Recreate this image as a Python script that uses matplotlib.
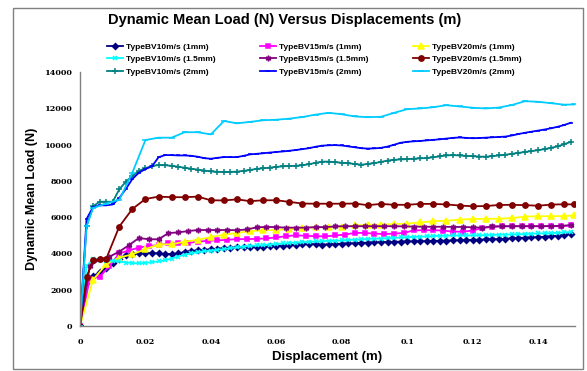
import numpy as np
import matplotlib.pyplot as plt
from matplotlib.patches import Rectangle

# sampling positions (m)
x2 = np.round(np.arange(0, 0.1501, 0.002), 3)
x3 = np.round(np.arange(0, 0.1501, 0.003), 3)
x_yel = list(np.round(np.arange(0, 0.1481, 0.004), 3)) + [0.151]
x_dred = [0, 0.002, 0.004, 0.006, 0.008] + list(np.round(np.arange(0.012, 0.1481, 0.004), 3)) + [0.151]
x_lblue = [0, 0.002] + list(np.round(np.arange(0.004, 0.1481, 0.004), 3)) + [0.151]

# mean load (N)
bv10_1mm = [0, 2450, 2750, 2950, 3200, 3450, 3720, 3900, 3970, 4000,
            4020, 4020, 4000, 3970, 3970, 4000, 4080, 4130, 4180, 4200,
            4230, 4260, 4300, 4320, 4340, 4350, 4350, 4360, 4370, 4390,
            4410, 4430, 4460, 4480, 4500, 4510, 4510, 4490, 4500, 4520,
            4540, 4550, 4560, 4580, 4600, 4610, 4620, 4630, 4640, 4650,
            4660, 4660, 4670, 4680, 4690, 4700, 4710, 4720, 4730, 4740,
            4750, 4760, 4770, 4780, 4790, 4810, 4830, 4860, 4870, 4880,
            4900, 4920, 4950, 4980, 5020, 5080]
bv15_1mm = [0, 2600, 2720, 3300, 4000, 4170, 4320, 4410, 4460, 4550,
            4560, 4590, 4640, 4700, 4720, 4750, 4790, 4790, 4800, 4830,
            4880, 4950, 5000, 4970, 4950, 4940, 4990, 5040, 5130, 5130,
            5090, 5070, 5090, 5130, 5270, 5280, 5280, 5260, 5200, 5200,
            5260, 5400, 5460, 5490, 5500, 5500, 5500, 5500, 5500, 5500,
            5540]
bv20_1mm = [0, 2550, 3400, 3770, 3950, 4230, 4500, 4500, 4650, 4750,
            4900, 5030, 5130, 5230, 5270, 5300, 5340, 5400, 5440, 5450,
            5480, 5540, 5580, 5590, 5610, 5640, 5710, 5780, 5800, 5860,
            5900, 5910, 5910, 5950, 6030, 6050, 6050, 6060, 6100]
bv10_15mm = [0, 3300, 3700, 3650, 3600, 3600, 3560, 3500, 3470, 3450,
             3480, 3520, 3560, 3620, 3720, 3830, 3930, 4010, 4080, 4120,
             4160, 4200, 4240, 4290, 4330, 4380, 4410, 4440, 4460, 4490,
             4520, 4550, 4580, 4600, 4620, 4640, 4660, 4680, 4690, 4700,
             4720, 4740, 4760, 4780, 4800, 4810, 4820, 4840, 4860, 4880,
             4900, 4910, 4920, 4940, 4960, 4970, 4980, 4990, 4990, 4990,
             5000, 5000, 5010, 5020, 5030, 5040, 5050, 5060, 5070, 5090,
             5100, 5110, 5120, 5140, 5160, 5180]
bv15_15mm = [0, 3300, 3670, 3820, 4100, 4460, 4850, 4780, 4780, 5120,
             5160, 5230, 5290, 5290, 5290, 5290, 5280, 5320, 5440, 5460,
             5450, 5420, 5420, 5420, 5450, 5450, 5490, 5500, 5500, 5500,
             5500, 5500, 5500, 5490, 5480, 5470, 5470, 5470, 5460, 5460,
             5440, 5420, 5490, 5500, 5500, 5500, 5500, 5500, 5510, 5520,
             5560]
bv20_15mm = [0, 2700, 3630, 3680, 3700,
             5480, 6450, 7000, 7130, 7100, 7100, 7130, 6930, 6920, 6980,
             6880, 6930, 6930, 6840, 6750, 6740, 6740, 6740, 6750, 6660,
             6730, 6680, 6680, 6730, 6730, 6700, 6640, 6600, 6610, 6670,
             6680, 6660, 6630, 6690, 6710, 6700]
bv10_2mm = [0, 5500, 6600, 6850, 6850, 6850, 7530, 7950, 8270, 8550,
            8700, 8820, 8870, 8860, 8830, 8780, 8720, 8670, 8620, 8570,
            8520, 8500, 8490, 8490, 8510, 8550, 8600, 8660, 8690, 8730,
            8770, 8800, 8820, 8830, 8860, 8920, 8990, 9060, 9060, 9030,
            9000, 8970, 8930, 8890, 8930, 8980, 9040, 9120, 9160, 9180,
            9200, 9220, 9240, 9260, 9300, 9350, 9400, 9420, 9400, 9380,
            9360, 9340, 9330, 9360, 9400, 9440, 9490, 9540, 9590, 9640,
            9690, 9750, 9820, 9900, 10020, 10150]
bv15_2mm = [0, 5900, 6550, 6650, 6650, 6700, 7050, 7550, 8100, 8450,
            8650, 8800, 9300, 9420, 9420, 9400, 9400, 9380, 9330, 9250,
            9220, 9270, 9310, 9310, 9310, 9380, 9460, 9490, 9520, 9560,
            9590, 9620, 9660, 9700, 9750, 9800, 9880, 9940, 9960, 9970,
            9950, 9900, 9850, 9800, 9780, 9790, 9820, 9890, 9990, 10100,
            10150, 10180, 10200, 10230, 10260, 10290, 10330, 10370, 10390, 10370,
            10350, 10360, 10380, 10400, 10420, 10440, 10500, 10580, 10650, 10710,
            10770, 10830, 10900, 10980, 11080, 11200]
bv20_2mm = [0, 5500,
            6500, 6750, 6950, 8450, 10250, 10380, 10380, 10680, 10680, 10560,
            11300, 11170, 11250, 11340, 11370, 11430, 11520, 11650, 11750, 11670,
            11550, 11510, 11530, 11750, 11950, 11990, 12060, 12170, 12100, 12030,
            11990, 12040, 12180, 12390, 12360, 12280, 12200, 12210]

xticks = [0, 0.02, 0.04, 0.06, 0.08, 0.1, 0.12, 0.14]
xtick_labels = ['0', '0.02', '0.04', '0.06', '0.08', '0.1', '0.12', '0.14']
yticks = [0, 2000, 4000, 6000, 8000, 10000, 12000, 14000]

series = [
    (x2, bv10_1mm, 'TypeBV10m/s (1mm)', '#000080', 'D', 3.0),
    (x3, bv15_1mm, 'TypeBV15m/s (1mm)', '#FF00FF', 's', 3.5),
    (x_yel, bv20_1mm, 'TypeBV20m/s (1mm)', '#FFFF00', '^', 3.8),
    (x2, bv10_15mm, 'TypeBV10m/s (1.5mm)', '#00FFFF', 'x', 3.5),
    (x3, bv15_15mm, 'TypeBV15m/s (1.5mm)', '#800080', (6, 2, 0), 4.0),
    (x_dred, bv20_15mm, 'TypeBV20m/s (1.5mm)', '#800000', 'o', 3.8),
    (x2, bv10_2mm, 'TypeBV10m/s (2mm)', '#008080', '+', 4.0),
    (x2, bv15_2mm, 'TypeBV15m/s (2mm)', '#0000FF', '_', 3.0),
    (x_lblue, bv20_2mm, 'TypeBV20m/s (2mm)', '#00CCFF', '_', 4.0),
]

W, H = 587, 371
fig = plt.figure(figsize=(W / 100, H / 100), dpi=100)
ax = fig.add_axes([80 / W, 1 - 326 / H, 495 / W, 254 / H])

handles = []
for xs, ys, label, color, marker, ms in series:
    h, = ax.plot(xs, ys, color=color, lw=1.3, marker=marker, ms=ms,
                 mew=1.1, label=label)
    handles.append(h)

ax.set_xlim(0, 0.1513)
ax.set_ylim(0, 14000)
ax.set_xticks(xticks)
ax.set_xticklabels(xtick_labels)
ax.set_yticks(yticks)
ax.tick_params(length=0)
ax.tick_params(axis='x', pad=8.5)
ax.tick_params(axis='y', pad=5.5)
for lab in ax.get_xticklabels() + ax.get_yticklabels():
    lab.set_family('DejaVu Serif')
    lab.set_weight('bold')
    lab.set_size(5.8)
for s in ['top', 'right']:
    ax.spines[s].set_visible(False)
for s in ['left', 'bottom']:
    ax.spines[s].set_color('#808080')
    ax.spines[s].set_linewidth(1)

fig.patches.append(Rectangle((13 / W, 2 / H), 570 / W, 361 / H, transform=fig.transFigure,
                             fill=False, edgecolor='#808080', lw=1))

fig.text(285 / W, 1 - 20 / H, 'Dynamic Mean Load (N) Versus Displacements (m)',
         ha='center', va='center', fontsize=10.5, fontweight='bold', family='Liberation Sans')
fig.text(327 / W, 1 - 357 / H, 'Displacement (m)', ha='center', va='center',
         fontsize=9.5, fontweight='bold', family='Liberation Sans')
fig.text(32 / W, 1 - 199 / H, 'Dynamic Mean Load (N)', ha='center', va='center',
         rotation=90, fontsize=9, fontweight='bold', family='Liberation Sans')

# legend is filled column by column, reorder so rows read across
order = [0, 3, 6, 1, 4, 7, 2, 5, 8]
fig.legend([handles[i] for i in order], [series[i][2] for i in order],
           loc='upper left', bbox_to_anchor=(107 / W, 1 - 43 / H), ncol=3,
           frameon=False, borderpad=0, borderaxespad=0, handlelength=1.9,
           handletextpad=0.4, columnspacing=5.3, labelspacing=0.55,
           prop={'family': 'Liberation Sans', 'weight': 'bold', 'size': 6})

fig.savefig('out.png', dpi=100)
